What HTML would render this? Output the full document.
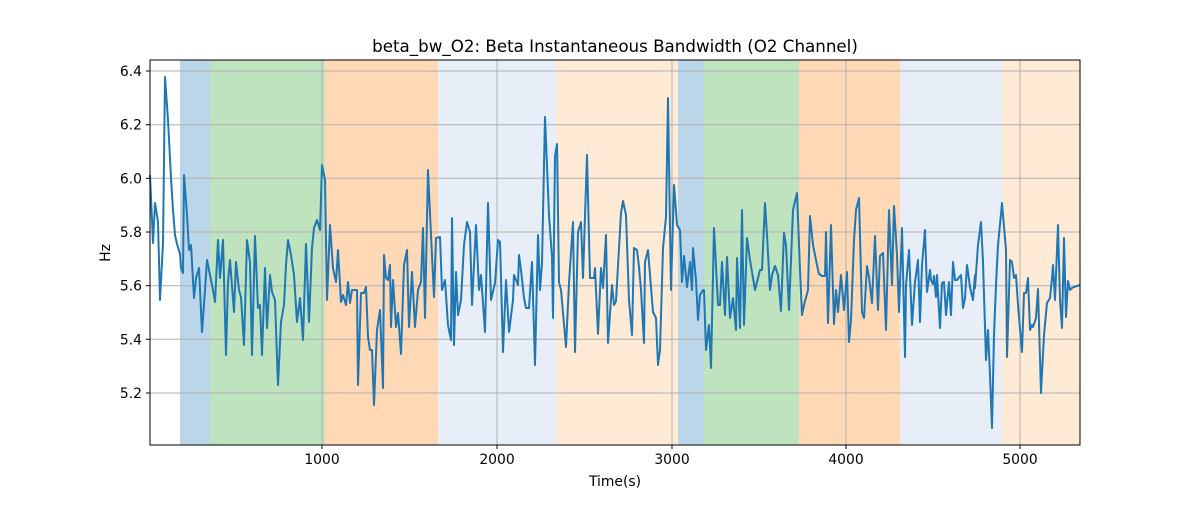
<!DOCTYPE html>
<html><head><meta charset="utf-8"><style>body{margin:0;background:#fff}svg text{font-family:"DejaVu Sans","Liberation Sans",sans-serif;fill:#000}</style></head><body>
<svg width="1200" height="500" xmlns="http://www.w3.org/2000/svg">
<rect width="1200" height="500" fill="#fff"/>
<g>
<rect x="180" y="60" width="30" height="385" fill="#1f77b4" opacity="0.3"/>
<rect x="210" y="60" width="115" height="385" fill="#2ca02c" opacity="0.3"/>
<rect x="325" y="60" width="113" height="385" fill="#ff7f0e" opacity="0.3"/>
<rect x="438" y="60" width="118" height="385" fill="#aec7e8" opacity="0.3"/>
<rect x="556" y="60" width="122" height="385" fill="#ffbb78" opacity="0.3"/>
<rect x="678" y="60" width="26" height="385" fill="#1f77b4" opacity="0.3"/>
<rect x="704" y="60" width="95" height="385" fill="#2ca02c" opacity="0.3"/>
<rect x="799" y="60" width="101" height="385" fill="#ff7f0e" opacity="0.3"/>
<rect x="900" y="60" width="102" height="385" fill="#aec7e8" opacity="0.3"/>
<rect x="1002" y="60" width="78" height="385" fill="#ffbb78" opacity="0.3"/>
</g>
<g stroke="#b0b0b0" stroke-width="1">
<line x1="322" y1="60" x2="322" y2="445"/><line x1="497" y1="60" x2="497" y2="445"/><line x1="672" y1="60" x2="672" y2="445"/><line x1="846" y1="60" x2="846" y2="445"/><line x1="1020" y1="60" x2="1020" y2="445"/>
<line x1="150" y1="71" x2="1080" y2="71"/><line x1="150" y1="124.7" x2="1080" y2="124.7"/><line x1="150" y1="178.3" x2="1080" y2="178.3"/><line x1="150" y1="232" x2="1080" y2="232"/><line x1="150" y1="285.7" x2="1080" y2="285.7"/><line x1="150" y1="339.3" x2="1080" y2="339.3"/><line x1="150" y1="393" x2="1080" y2="393"/>
</g>
<polyline fill="none" stroke="#1f77b4" stroke-width="2" stroke-linejoin="round" points="150,175 153,243 155,203 158,222 160,300 163,243 165,77 168,120 171,178 173,210 175,235 177,244 180,254 181,268 183,273 184,175 187,215 189,250 191,245 194,298 196,278 199,268 202,332 205,290 207,260 210,275 213,290 215,302 218,240 220,278 223,240 226,355 228,282 230,260 234,312 236,262 239,290 241,297 244,345 247,240 250,262 252,355 255,236 258,308 260,305 262,355 265,268 267,328 270,275 272,292 275,300 278,385 281,322 284,305 286,265 288,240 291,255 294,275 297,322 300,298 303,340 306,244 309,322 312,248 314,228 317,220 320,230 322,165 325,180 327,300 330,225 333,268 336,282 338,250 341,302 343,295 346,305 348,282 350,303 352,290 354,290 357,290 358,385 361,293 364,293 366,287 368,337 370,350 372,350 374,405 377,330 380,310 383,388 384,255 386,278 388,280 390,265 391,327 393,280 396,327 398,313 401,354 404,265 407,250 409,327 412,272 415,327 418,290 421,282 423,228 425,318 428,170 431,235 434,297 436,238 440,237 442,290 445,280 448,325 451,340 452,218 454,345 456,272 458,315 461,300 464,245 467,222 470,232 472,305 476,225 479,290 481,275 485,332 488,203 491,300 495,283 498,240 500,242 503,352 506,280 509,332 513,300 514,275 518,285 519,255 521,270 524,298 526,308 529,308 532,262 535,365 538,235 540,290 542,263 545,117 549,215 552,257 553,318 555,156 557,144 559,282 561,290 566,347 569,283 573,222 575,352 578,232 581,222 583,278 587,155 590,278 594,278 595,268 598,334 601,268 603,288 606,235 608,343 612,285 614,305 616,301 621,213 623,201 626,215 629,300 632,335 634,248 637,250 639,267 641,290 644,343 645,262 648,250 652,300 653,312 656,318 658,365 660,350 663,248 666,217 668,98 671,290 674,185 677,225 680,230 682,282 684,256 687,287 690,262 692,290 693,248 696,280 698,320 700,295 703,290 704,290 706,350 709,325 711,368 714,228 718,305 720,305 722,262 725,315 727,257 730,318 733,298 736,330 737,258 740,328 742,210 744,325 747,238 750,260 755,290 760,270 762,270 765,203 767,235 770,290 772,275 775,266 778,275 781,311 784,233 786,245 789,310 793,210 797,193 800,270 802,315 804,305 808,290 810,216 813,245 817,265 819,274 822,276 825,276 826,232 828,323 831,225 834,324 836,290 838,312 841,275 844,310 847,272 849,342 851,320 854,240 856,210 859,198 862,312 864,318 867,266 869,277 872,303 875,236 878,310 880,256 883,253 886,330 889,210 892,285 894,206 897,255 899,312 902,228 905,357 906,285 909,250 912,325 915,282 918,260 920,322 922,265 925,230 927,292 930,270 931,280 933,284 934,276 936,297 937,275 940,328 942,283 944,282 946,315 949,282 951,315 953,262 955,280 957,280 961,275 963,308 965,298 967,265 970,287 973,300 975,275 975,288 978,245 981,222 983,262 986,360 988,330 990,375 992,428 994,335 996,285 998,245 1001,214 1002,203 1006,250 1007,357 1010,260 1012,262 1014,278 1016,275 1018,305 1022,352 1024,293 1026,293 1028,278 1030,330 1032,325 1033,327 1036,318 1038,289 1041,393 1044,335 1047,303 1050,298 1052,278 1053,265 1055,300 1058,225 1060,300 1062,328 1064,238 1066,317 1068,281 1070,290 1072,288 1074,287 1080,285"/>
<rect x="150" y="60" width="930" height="385" fill="none" stroke="#000" stroke-width="1"/>
<g stroke="#000" stroke-width="1">
<line x1="322" y1="445" x2="322" y2="449"/><line x1="497" y1="445" x2="497" y2="449"/><line x1="672" y1="445" x2="672" y2="449"/><line x1="846" y1="445" x2="846" y2="449"/><line x1="1020" y1="445" x2="1020" y2="449"/>
<line x1="146" y1="71" x2="150" y2="71"/><line x1="146" y1="124.7" x2="150" y2="124.7"/><line x1="146" y1="178.3" x2="150" y2="178.3"/><line x1="146" y1="232" x2="150" y2="232"/><line x1="146" y1="285.7" x2="150" y2="285.7"/><line x1="146" y1="339.3" x2="150" y2="339.3"/><line x1="146" y1="393" x2="150" y2="393"/>
</g>
<g font-size="13.9" text-anchor="middle">
<text x="322" y="464">1000</text><text x="497" y="464">2000</text><text x="672" y="464">3000</text><text x="846" y="464">4000</text><text x="1020" y="464">5000</text>
</g>
<g font-size="13.9" text-anchor="end">
<text x="142" y="76">6.4</text><text x="142" y="129.7">6.2</text><text x="142" y="183.3">6.0</text><text x="142" y="237">5.8</text><text x="142" y="290.7">5.6</text><text x="142" y="344.3">5.4</text><text x="142" y="398">5.2</text>
</g>
<text x="615" y="486" font-size="13.9" text-anchor="middle">Time(s)</text>
<text x="110" y="253" font-size="13.9" text-anchor="middle" transform="rotate(-90 110 253)">Hz</text>
<text x="615" y="52" font-size="16.7" text-anchor="middle">beta_bw_O2: Beta Instantaneous Bandwidth (O2 Channel)</text>
</svg>
</body></html>
